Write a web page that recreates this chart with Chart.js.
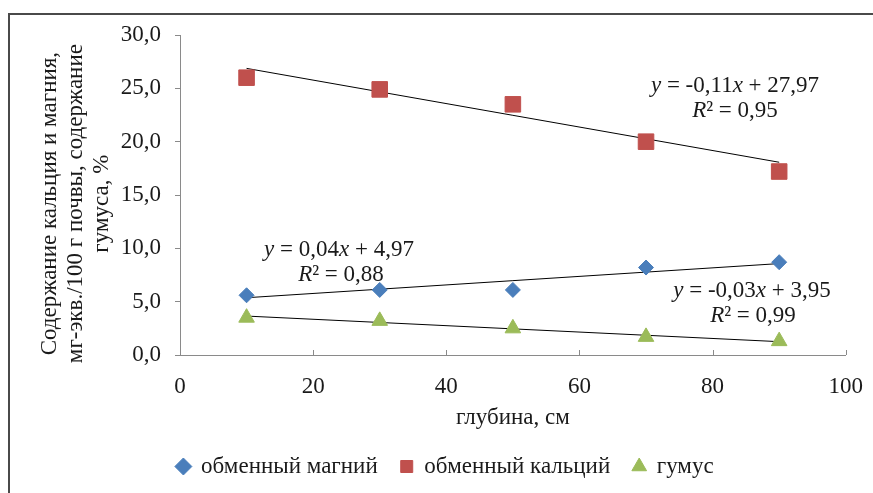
<!DOCTYPE html>
<html>
<head>
<meta charset="utf-8">
<script src="https://cdn.jsdelivr.net/npm/chart.js@4"></script>
<style>
  body { margin: 0; background: #fff; overflow: hidden; }
  #frame { position: absolute; left: 8px; top: 13px; width: 900px; height: 600px; border: 2px solid #4a4a4a; }
  #wrap { position: absolute; left: 0; top: 0; width: 873px; height: 493px; }
</style>
</head>
<body>
<div id="frame"></div>
<div id="wrap"><canvas id="chart"></canvas></div>
<script>
const depth = [10, 30, 50, 70, 90];
const magnesium = [5.6, 6.1, 6.1, 8.2, 8.7];
const calcium = [26.0, 24.9, 23.5, 20.0, 17.2];
const humus = [3.5, 3.2, 2.5, 1.7, 1.3];

// trend coefficients as printed on the chart: [slope, intercept]
const trendMg = [0.04, 4.97];
const trendCa = [-0.11, 27.97];
const trendHum = [-0.03, 3.95];

const seriesNames = ['обменный магний', 'обменный кальций', 'гумус'];
// trailing spaces nudge the rotated title a little lower, like the original
const yTitle = ['Содержание кальция и магния,   ', 'мг-экв./100 г почвы, содержание   ', 'гумуса, %   '];
const xTitle = 'глубина, см';

const FONT = '"Liberation Serif", "Times New Roman", serif';
const FS = 23;
Chart.defaults.font.family = FONT;
Chart.defaults.font.size = FS;
Chart.defaults.color = '#1a1a1a';

function pts(ys) { return depth.map((x, i) => ({ x, y: ys[i] })); }
function trend(c) {
  const x0 = depth[0], x1 = depth[depth.length - 1];
  return [{ x: x0, y: c[0] * x0 + c[1] }, { x: x1, y: c[0] * x1 + c[1] }];
}
function trendSet(c) {
  return { data: trend(c), showLine: true, borderColor: '#000', borderWidth: 1, pointRadius: 0, isTrend: true };
}

// equation labels: y = ..., R² = ...
const eqLabels = [
  { cx: 735, cy: 86, parts: [['y', 1], [' = -0,11', 0], ['x', 1], [' + 27,97', 0]] },
  { cx: 735, cy: 111, parts: [['R', 1], ['² = 0,95', 0]] },
  { cx: 339, cy: 250, parts: [['y', 1], [' = 0,04', 0], ['x', 1], [' + 4,97', 0]] },
  { cx: 341, cy: 275, parts: [['R', 1], ['² = 0,88', 0]] },
  { cx: 752, cy: 291, parts: [['y', 1], [' = -0,03', 0], ['x', 1], [' + 3,95', 0]] },
  { cx: 753, cy: 316, parts: [['R', 1], ['² = 0,99', 0]] }
];

const extras = {
  id: 'extras',
  afterDatasetsDraw(chart) {
    const ctx = chart.ctx;
    const xs = chart.scales.x, ys = chart.scales.y;
    ctx.save();
    // x ticks point up into the plot
    ctx.strokeStyle = '#8a8a8a';
    ctx.lineWidth = 1;
    for (let v = 20; v <= 100; v += 20) {
      const px = Math.round(xs.getPixelForValue(v)) + 0.5;
      ctx.beginPath();
      ctx.moveTo(px, ys.bottom);
      ctx.lineTo(px, ys.bottom - 5);
      ctx.stroke();
    }
    ctx.fillStyle = '#1a1a1a';
    ctx.textBaseline = 'middle';
    ctx.textAlign = 'left';
    eqLabels.forEach(l => {
      let w = 0;
      l.parts.forEach(p => {
        ctx.font = (p[1] ? 'italic ' : '') + FS + 'px ' + FONT;
        w += ctx.measureText(p[0]).width;
      });
      let x = l.cx - w / 2;
      l.parts.forEach(p => {
        ctx.font = (p[1] ? 'italic ' : '') + FS + 'px ' + FONT;
        ctx.fillText(p[0], x, l.cy);
        x += ctx.measureText(p[0]).width;
      });
    });
    ctx.restore();
  }
};

const ctx = document.getElementById('chart').getContext('2d');
new Chart(ctx, {
  type: 'scatter',
  data: {
    datasets: [
      { label: seriesNames[0], data: pts(magnesium), backgroundColor: '#4a7ebb', borderColor: '#4a7ebb', pointStyle: 'rectRot', pointRadius: 7.5, pointHoverRadius: 7.5 },
      { label: seriesNames[1], data: pts(calcium), backgroundColor: '#c0504d', borderColor: '#c0504d', pointStyle: 'rect', pointRadius: 11, pointHoverRadius: 11 },
      { label: seriesNames[2], data: pts(humus), backgroundColor: '#9bbb59', borderColor: '#9bbb59', pointStyle: 'triangle', pointRadius: 9, pointHoverRadius: 9 },
      trendSet(trendMg),
      trendSet(trendCa),
      trendSet(trendHum)
    ]
  },
  options: {
    responsive: true,
    maintainAspectRatio: false,
    animation: false,
    layout: { padding: { left: 37, right: 19, top: 35, bottom: 5 } },
    plugins: {
      tooltip: { enabled: false },
      legend: {
        position: 'bottom',
        labels: {
          usePointStyle: true,
          boxWidth: 12,
          boxHeight: 12,
          padding: 23,
          color: '#1a1a1a',
          font: { family: FONT, size: FS },
          filter: item => item.datasetIndex < 3
        }
      }
    },
    scales: {
      x: {
        type: 'linear',
        min: 0, max: 100,
        ticks: { stepSize: 20, color: '#1a1a1a', font: { family: FONT, size: FS }, padding: 10 },
        grid: { display: false },
        border: { color: '#8a8a8a', width: 1 },
        title: { display: true, text: xTitle, color: '#1a1a1a', font: { family: FONT, size: FS }, padding: { top: 0, bottom: 0 } },
        afterFit: s => { s.height = 77; }
      },
      y: {
        min: 0, max: 30,
        ticks: {
          stepSize: 5, color: '#1a1a1a', font: { family: FONT, size: FS }, padding: 14,
          callback: v => v.toFixed(1).replace('.', ',')
        },
        grid: { drawOnChartArea: false, drawTicks: true, tickLength: 5, color: '#8a8a8a' },
        border: { color: '#8a8a8a', width: 1 },
        title: { display: true, text: yTitle, color: '#1a1a1a', font: { family: FONT, size: FS, lineHeight: 1.13 }, padding: 0 },
        afterFit: s => { s.width = 143; }
      }
    }
  },
  plugins: [extras]
});
</script>
</body>
</html>
